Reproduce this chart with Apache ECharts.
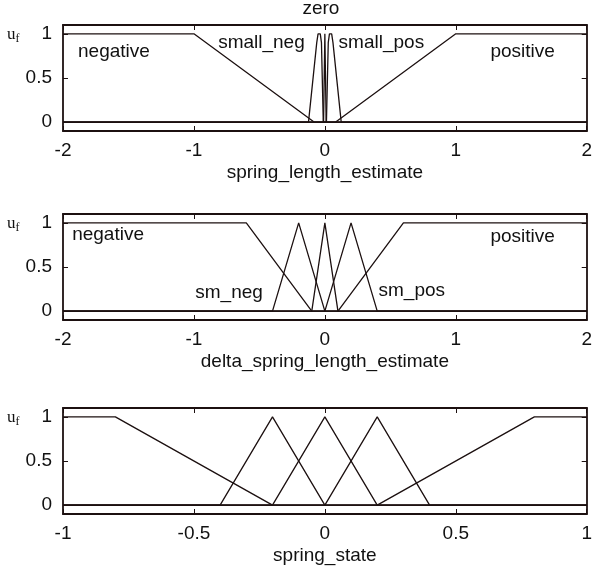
<!DOCTYPE html>
<html>
<head>
<meta charset="utf-8">
<script src="https://cdn.jsdelivr.net/npm/echarts@6/dist/echarts.min.js"></script>
<style>html,body{margin:0;padding:0;background:#fff;}#c{width:595px;height:570px;}</style>
</head>
<body>
<div id="c"></div>
<script>
// ---------- data ----------
// Panel 1: spring_length_estimate
const p1Negative = [[-2, 1], [-1, 1], [-0.08, 0], [2, 0]];
const p1SmallNeg = [[-2, 0], [-0.125, 0], [-0.062, 0.9], [-0.052, 1], [-0.035, 1], [-0.026, 0.9], [-0.012, 0], [2, 0]];
const p1Zero = [[-2, 0], [-0.01, 0], [0, 1], [0.01, 0], [2, 0]];
const p1SmallPos = [[-2, 0], [0.012, 0], [0.026, 0.9], [0.035, 1], [0.052, 1], [0.062, 0.9], [0.125, 0], [2, 0]];
const p1Positive = [[-2, 0], [0.08, 0], [1, 1], [2, 1]];
const p1Labels = ['negative', 'small_neg', 'zero', 'small_pos', 'positive'];
const p1LabelAt = [[-1.885, 0.8], [-0.815, 0.9], [-0.03, 1.28], [0.105, 0.9], [1.265, 0.8]];
const p1XTicks = [-2, -1, 0, 1, 2];

// Panel 2: delta_spring_length_estimate
const p2Negative = [[-2, 1], [-0.6, 1], [-0.1, 0], [2, 0]];
const p2SmNeg = [[-2, 0], [-0.4, 0], [-0.2, 1], [0, 0], [2, 0]];
const p2Zero = [[-2, 0], [-0.1, 0], [0, 1], [0.1, 0], [2, 0]];
const p2SmPos = [[-2, 0], [0, 0], [0.2, 1], [0.4, 0], [2, 0]];
const p2Positive = [[-2, 0], [0.1, 0], [0.6, 1], [2, 1]];
const p2Labels = ['negative', 'sm_neg', 'sm_pos', 'positive'];
const p2LabelAt = [[-1.93, 0.86], [-0.99, 0.21], [0.41, 0.23], [1.265, 0.84]];
const p2XTicks = [-2, -1, 0, 1, 2];

// Panel 3: spring_state
const p3Negative = [[-1, 1], [-0.8, 1], [-0.2, 0], [1, 0]];
const p3SmNeg = [[-1, 0], [-0.4, 0], [-0.2, 1], [0, 0], [1, 0]];
const p3Zero = [[-1, 0], [-0.2, 0], [0, 1], [0.2, 0], [1, 0]];
const p3SmPos = [[-1, 0], [0, 0], [0.2, 1], [0.4, 0], [1, 0]];
const p3Positive = [[-1, 0], [0.2, 0], [0.8, 1], [1, 1]];
const p3XTicks = [-1, -0.5, 0, 0.5, 1];

const yTicks = [0, 0.5, 1];
const xNames = ['spring_length_estimate', 'delta_spring_length_estimate', 'spring_state'];

// ---------- chart ----------
const INK = '#1c1010';
const FONT = 'Liberation Sans, Arial, sans-serif';
const FS = 19;

const panels = [
  { curves: [p1Negative, p1SmallNeg, p1Zero, p1SmallPos, p1Positive], labels: p1Labels, at: p1LabelAt, ticks: p1XTicks, top: 25 },
  { curves: [p2Negative, p2SmNeg, p2Zero, p2SmPos, p2Positive], labels: p2Labels, at: p2LabelAt, ticks: p2XTicks, top: 214 },
  { curves: [p3Negative, p3SmNeg, p3Zero, p3SmPos, p3Positive], labels: [], at: [], ticks: p3XTicks, top: 408 }
];

const grid = [], xAxis = [], yAxis = [], series = [], graphic = [];
panels.forEach((p, i) => {
  grid.push({ left: 63, right: 4, top: p.top, height: 106 });
  const xmin = p.ticks[0], xmax = p.ticks[p.ticks.length - 1];
  const interval = p.ticks[1] - p.ticks[0];
  const lineStyle = { color: INK, width: 1.8 };
  xAxis.push({
    type: 'value', gridIndex: i, min: xmin, max: xmax, interval: interval, position: 'bottom',
    axisLine: { show: true, onZero: false, lineStyle },
    axisTick: { show: true, inside: true, length: 5, lineStyle: { color: INK, width: 1 } },
    axisLabel: { color: '#111', fontFamily: FONT, fontSize: FS, margin: 10 },
    splitLine: { show: false },
    name: xNames[i], nameLocation: 'middle', nameGap: 32,
    nameTextStyle: { color: '#111', fontFamily: FONT, fontSize: FS }
  });
  xAxis.push({
    type: 'value', gridIndex: i, min: xmin, max: xmax, interval: interval, position: 'top',
    axisLine: { show: true, onZero: false, lineStyle },
    axisTick: { show: true, inside: true, length: 5, lineStyle: { color: INK, width: 1 } },
    axisLabel: { show: false }, splitLine: { show: false }
  });
  yAxis.push({
    type: 'value', gridIndex: i, min: -0.1, max: 1.1, position: 'left',
    axisLine: { show: true, onZero: false, lineStyle },
    axisTick: { show: true, inside: true, length: 5, customValues: yTicks, lineStyle: { color: INK, width: 1 } },
    axisLabel: { color: '#111', fontFamily: FONT, fontSize: FS, margin: 11, customValues: yTicks },
    splitLine: { show: false }
  });
  yAxis.push({
    type: 'value', gridIndex: i, min: -0.1, max: 1.1, position: 'right',
    axisLine: { show: true, onZero: false, lineStyle },
    axisTick: { show: true, inside: true, length: 5, customValues: yTicks, lineStyle: { color: INK, width: 1 } },
    axisLabel: { show: false }, splitLine: { show: false }
  });
  p.curves.forEach(c => {
    series.push({
      type: 'line', xAxisIndex: 2 * i, yAxisIndex: 2 * i, data: c, symbol: 'none', silent: true,
      lineStyle: { color: INK, width: 1.3 }, animation: false, clip: true
    });
  });
  if (p.labels.length) {
    series.push({
      type: 'scatter', xAxisIndex: 2 * i, yAxisIndex: 2 * i, symbolSize: 0, silent: true, clip: false,
      animation: false, itemStyle: { opacity: 1 },
      data: p.labels.map((t, k) => (t === 'zero'
        ? { value: p.at[k], name: t, label: { position: 'inside', align: 'center' } }
        : { value: p.at[k], name: t })),
      label: {
        show: true, formatter: '{b}', color: '#111', fontFamily: FONT, fontSize: FS,
        position: 'right', distance: 0, opacity: 1
      }
    });
  }
});

// u_f axis names
panels.forEach((p, i) => {
  graphic.push({
    type: 'text', left: 7, top: p.top + 1,
    style: {
      text: '{u|u}{f|f}',
      rich: {
        u: { fontFamily: 'Liberation Serif, Times New Roman, serif', fontSize: 17, fill: '#111' },
        f: { fontFamily: 'Liberation Serif, Times New Roman, serif', fontSize: 12, fill: '#111', padding: [8, 0, 0, 0] }
      }
    }
  });
});

const chart = echarts.init(document.getElementById('c'), null, { renderer: 'canvas' });
chart.setOption({ animation: false, backgroundColor: '#fff', grid, xAxis, yAxis, series, graphic });
</script>
</body>
</html>
